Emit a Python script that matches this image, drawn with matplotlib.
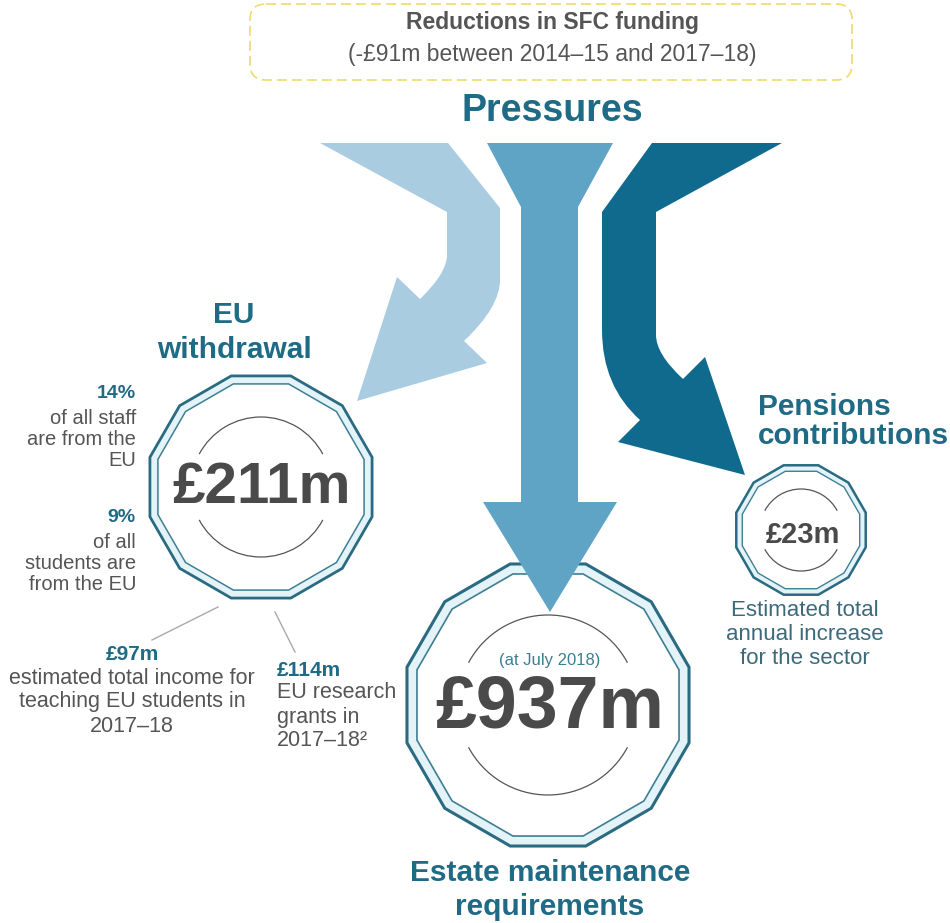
import numpy as np
import matplotlib
matplotlib.use("Agg")
import matplotlib.pyplot as plt
from matplotlib.path import Path
from matplotlib.patches import PathPatch, Polygon, Arc, FancyBboxPatch

plt.rcParams['font.family'] = ['Liberation Sans', 'DejaVu Sans']

# ---- content ----
header_title = "Reductions in SFC funding"
header_sub = "(-£91m between 2014–15 and 2017–18)"
main_title = "Pressures"

badge_values = ["£211m", "£937m", "£23m"]
badge_titles = ["EU\nwithdrawal", "Estate maintenance\nrequirements", "Pensions\ncontributions"]
estate_note = "(at July 2018)"
pension_note = "Estimated total\nannual increase\nfor the sector"

eu_share_values = ["14%", "9%"]
eu_share_text = ["of all staff\nare from the\nEU", "of all\nstudents are\nfrom the EU"]
eu_income_values = ["£97m", "£114m"]
eu_income_text = ["estimated total income for\nteaching EU students in\n2017–18",
                  "EU research\ngrants in\n2017–18²"]

# ---- colours ----
TEAL = "#1f6a85"
GREY = "#555555"
NUM = "#4a4a4a"
OUTLINE = "#2a6b82"
BAND = "#e3f3f7"
LIGHT_ARROW = "#a9cce0"
MID_ARROW = "#5fa4c5"
DARK_ARROW = "#0f6a8e"

fig = plt.figure(figsize=(9.5, 9.23), dpi=100)
ax = fig.add_axes([0, 0, 1, 1])
ax.set_xlim(0, 950)
ax.set_ylim(923, 0)
ax.axis('off')


def lines(x, y, txt, step, **kw):
    for i, s in enumerate(txt.split("\n")):
        ax.text(x, y + i * step, s, va='center', **kw)


def badge(cx, cy, R, gap, arc_r, lw):
    ang = np.radians(15 + 30 * np.arange(12))
    outer = np.c_[cx + R * np.cos(ang), cy + R * np.sin(ang)]
    Ri = R - gap / 0.966
    inner = np.c_[cx + Ri * np.cos(ang), cy + Ri * np.sin(ang)]
    ax.add_patch(Polygon(outer, closed=True, fc=BAND, ec=OUTLINE, lw=lw, zorder=2))
    ax.add_patch(Polygon(inner, closed=True, fc="white", ec="#3f7f93", lw=lw * 0.55, zorder=2))
    ax.add_patch(Arc((cx, cy), 2 * arc_r, 2 * arc_r, theta1=208, theta2=332,
                     ec="#555555", lw=0.9, zorder=2))
    ax.add_patch(Arc((cx, cy), 2 * arc_r, 2 * arc_r, theta1=28, theta2=152,
                     ec="#555555", lw=0.9, zorder=2))


# ---- header box ----
ax.add_patch(FancyBboxPatch((250, 4), 602, 76, boxstyle="round,pad=0,rounding_size=16",
                            fc="none", ec="#eedb6a", lw=1.2, ls=(0, (6, 3))))
ax.text(552, 23, header_title, ha='center', va='center', fontsize=16.5,
        fontweight='bold', color=GREY)
ax.text(552, 54, header_sub, ha='center', va='center', fontsize=16.5, color=GREY)
ax.text(552, 111, main_title, ha='center', va='center', fontsize=27,
        fontweight='bold', color=TEAL)

# ---- badges ----
badge(261, 487, 115, 8, 70, 2.0)
badge(548, 705, 146, 10, 90, 2.2)
badge(801, 530, 67, 6, 41, 1.8)

# ---- arrows ----
M, L, C = Path.MOVETO, Path.LINETO, Path.CURVE3
light = [(320, 143), (448, 143), (500, 208), (500, 280), (500, 307), (464, 341),
         (487, 363), (357, 401), (397, 277), (420, 299), (447, 273), (447, 255),
         (447, 212), (320, 143)]
light_codes = [M, L, L, L, C, C, L, L, L, L, C, C, L, Path.CLOSEPOLY]
ax.add_patch(PathPatch(Path(light, light_codes), fc=LIGHT_ARROW, ec="none", zorder=3))

mid = [(487, 143), (613, 143), (578, 207), (578, 502), (617, 502), (550, 612),
       (483, 502), (521, 502), (521, 207), (487, 143)]
mid_codes = [M] + [L] * 8 + [Path.CLOSEPOLY]
ax.add_patch(PathPatch(Path(mid, mid_codes), fc=MID_ARROW, ec="none", zorder=3))

dark = [(652, 143), (782, 143), (656, 212), (656, 335), (656, 354), (683, 379),
        (705, 357), (745, 475), (618, 442), (640, 420), (602, 386), (602, 330),
        (602, 212), (652, 143)]
dark_codes = [M, L, L, L, C, C, L, L, L, L, C, C, L, Path.CLOSEPOLY]
ax.add_patch(PathPatch(Path(dark, dark_codes), fc=DARK_ARROW, ec="none", zorder=3))

# ---- badge numbers ----
ax.text(262, 488, badge_values[0], ha='center', va='center', fontsize=42,
        fontweight='bold', color=NUM, zorder=4)
ax.text(550, 708, badge_values[1], ha='center', va='center', fontsize=53,
        fontweight='bold', color=NUM, zorder=4)
ax.text(803, 535, badge_values[2], ha='center', va='center', fontsize=21,
        fontweight='bold', color=NUM, zorder=4)
ax.text(550, 660, estate_note, ha='center', va='center', fontsize=12,
        color="#3c7d92", zorder=4)

# ---- titles ----
lines(234, 315, badge_titles[0], 35, ha='center', fontsize=21.5, fontweight='bold', color=TEAL)
lines(550, 873, badge_titles[1], 34, ha='center', fontsize=21.5, fontweight='bold', color=TEAL)
lines(758, 407, badge_titles[2], 29, ha='left', fontsize=21.5, fontweight='bold', color=TEAL)

lines(805, 610, pension_note, 24, ha='center', fontsize=16, color="#3d6a7a")

# ---- EU detail ----
for val, txt, y0 in zip(eu_share_values, eu_share_text, [393, 517]):
    ax.text(136, y0, val, ha='right', va='center', fontsize=14, fontweight='bold', color=TEAL)
    lines(136, y0 + 26, txt, 20.5, ha='right', fontsize=14.5, color=GREY)

ax.plot([152, 218], [640, 607], color="#aaaaaa", lw=1)
ax.plot([275, 295], [612, 652], color="#aaaaaa", lw=1)

ax.text(132, 655, eu_income_values[0], ha='center', va='center', fontsize=15,
        fontweight='bold', color=TEAL)
lines(132, 678, eu_income_text[0], 24, ha='center', fontsize=15.5, color=GREY)
ax.text(277, 670, eu_income_values[1], ha='left', va='center', fontsize=15,
        fontweight='bold', color=TEAL)
lines(277, 693, eu_income_text[1], 24, ha='left', fontsize=15.5, color=GREY)

fig.savefig("out.png", dpi=100)
